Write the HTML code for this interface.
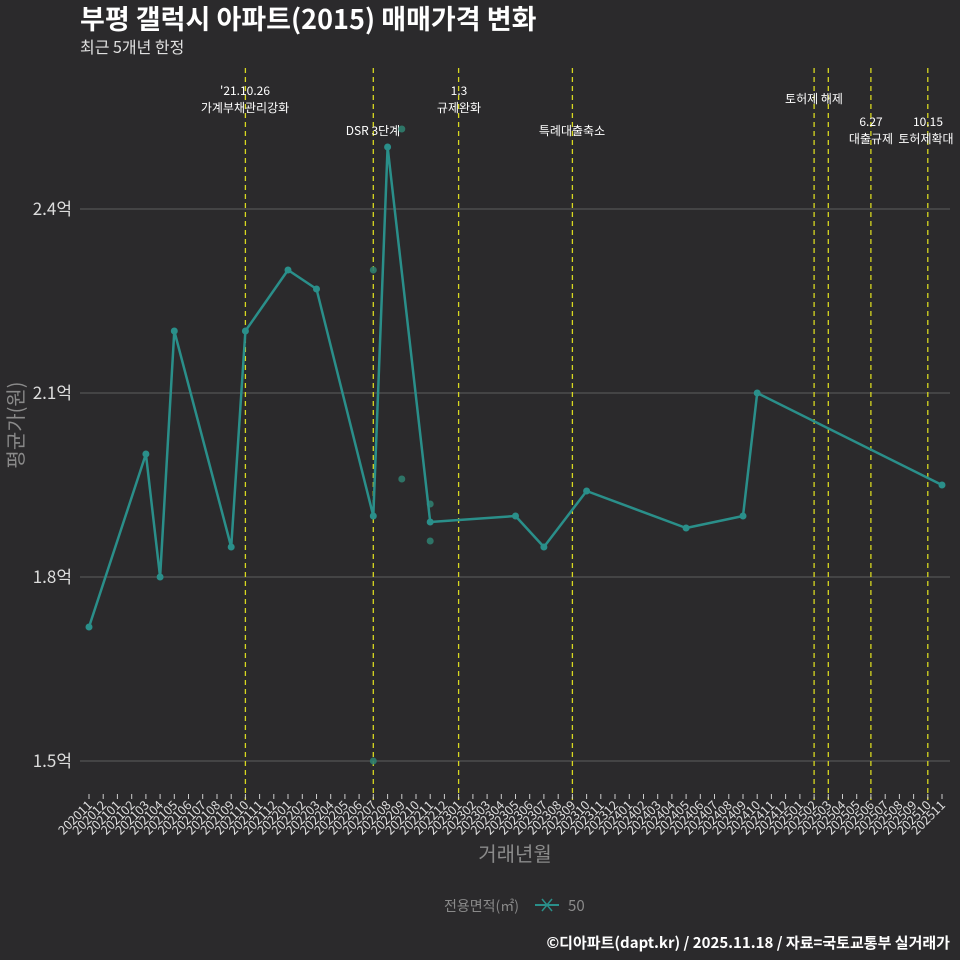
<!DOCTYPE html>
<html><head><meta charset="utf-8"><style>
html,body{margin:0;padding:0;background:#2b2a2c;}
svg{display:block;font-family:"Noto Sans CJK KR","Liberation Sans",sans-serif;}
</style></head><body>
<svg width="960" height="960" viewBox="0 0 960 960" xmlns="http://www.w3.org/2000/svg">
<rect width="960" height="960" fill="#2b2a2c"/>
<text x="80" y="29" font-size="27" font-weight="bold" fill="#ffffff">부평 갤럭시 아파트(2015) 매매가격 변화</text>
<text x="80" y="53" font-size="16" fill="#e0e0e0">최근 5개년 한정</text>
<g stroke="#5e5e5e" stroke-width="1">
<line x1="80" y1="209" x2="950" y2="209"/><line x1="80" y1="393" x2="950" y2="393"/>
<line x1="80" y1="577" x2="950" y2="577"/><line x1="80" y1="761" x2="950" y2="761"/>
</g>
<g font-size="17" fill="#dddddd" text-anchor="end">
<text x="72" y="215">2.4억</text><text x="72" y="399">2.1억</text>
<text x="72" y="583">1.8억</text><text x="72" y="767">1.5억</text>
</g>
<g stroke="#d8d820" stroke-width="1.3" stroke-dasharray="5,4">
<line x1="245.4" y1="68" x2="245.4" y2="800"/><line x1="373.3" y1="68" x2="373.3" y2="800"/>
<line x1="458.6" y1="68" x2="458.6" y2="800"/><line x1="572.4" y1="68" x2="572.4" y2="800"/>
<line x1="814.1" y1="68" x2="814.1" y2="800"/><line x1="828.3" y1="68" x2="828.3" y2="800"/>
<line x1="870.9" y1="68" x2="870.9" y2="800"/><line x1="927.8" y1="68" x2="927.8" y2="800"/>
</g>
<g font-size="12" fill="#ffffff" text-anchor="middle">
<text x="245" y="95">'21.10.26</text><text x="245" y="112">가계부채관리강화</text>
<text x="373" y="135">DSR 3단계</text>
<text x="459" y="95">1.3</text><text x="459" y="112">규제완화</text>
<text x="572" y="135">특례대출축소</text>
<text x="814" y="103">토허제 해제</text>
<text x="871" y="126">6.27</text><text x="871" y="143">대출규제</text>
<text x="928" y="126">10.15</text><text x="926" y="143">토허제확대</text>
</g>
<g fill="#2f7d6e" opacity="0.9">
<circle cx="373.3" cy="270" r="3.5"/><circle cx="373.3" cy="761" r="3.5"/>
<circle cx="401.8" cy="129" r="3.5"/><circle cx="401.8" cy="479" r="3.5"/>
<circle cx="430.2" cy="504" r="3.5"/><circle cx="430.2" cy="541" r="3.5"/>
</g>
<polyline fill="none" stroke="#2a8f8a" stroke-width="2.5" stroke-linejoin="round" points="89,627 145.9,454 160.1,577 174.3,331 231.2,547 245.4,331 288,270 316.5,289 373.3,516 387.6,147 430.2,522 515.5,516 543.9,547 586.6,491 686.1,528 743,516 757.2,393 942,485"/>
<g fill="#2a8f8a">
<circle cx="89" cy="627" r="3.5"/><circle cx="145.9" cy="454" r="3.5"/><circle cx="160.1" cy="577" r="3.5"/><circle cx="174.3" cy="331" r="3.5"/><circle cx="231.2" cy="547" r="3.5"/><circle cx="245.4" cy="331" r="3.5"/><circle cx="288" cy="270" r="3.5"/><circle cx="316.5" cy="289" r="3.5"/><circle cx="373.3" cy="516" r="3.5"/><circle cx="387.6" cy="147" r="3.5"/><circle cx="430.2" cy="522" r="3.5"/><circle cx="515.5" cy="516" r="3.5"/><circle cx="543.9" cy="547" r="3.5"/><circle cx="586.6" cy="491" r="3.5"/><circle cx="686.1" cy="528" r="3.5"/><circle cx="743" cy="516" r="3.5"/><circle cx="757.2" cy="393" r="3.5"/><circle cx="942" cy="485" r="3.5"/>
</g>
<g stroke="#cccccc" stroke-width="1">
<path d="M89 794v5M103.2 794v5M117.4 794v5M131.7 794v5M145.9 794v5M160.1 794v5M174.3 794v5M188.5 794v5M202.7 794v5M217 794v5M231.2 794v5M245.4 794v5M259.6 794v5M273.8 794v5M288 794v5M302.3 794v5M316.5 794v5M330.7 794v5M344.9 794v5M359.1 794v5M373.3 794v5M387.6 794v5M401.8 794v5M416 794v5M430.2 794v5M444.4 794v5M458.6 794v5M472.9 794v5M487.1 794v5M501.3 794v5M515.5 794v5M529.7 794v5M543.9 794v5M558.2 794v5M572.4 794v5M586.6 794v5M600.8 794v5M615 794v5M629.3 794v5M643.5 794v5M657.7 794v5M671.9 794v5M686.1 794v5M700.3 794v5M714.5 794v5M728.8 794v5M743 794v5M757.2 794v5M771.4 794v5M785.6 794v5M799.9 794v5M814.1 794v5M828.3 794v5M842.5 794v5M856.7 794v5M870.9 794v5M885.2 794v5M899.4 794v5M913.6 794v5M927.8 794v5M942 794v5"/>
</g>
<g font-size="12.5" fill="#dddddd" text-anchor="end">
<text transform="translate(93,806) rotate(-45)">202011</text>
<text transform="translate(107.2,806) rotate(-45)">202012</text>
<text transform="translate(121.4,806) rotate(-45)">202101</text>
<text transform="translate(135.7,806) rotate(-45)">202102</text>
<text transform="translate(149.9,806) rotate(-45)">202103</text>
<text transform="translate(164.1,806) rotate(-45)">202104</text>
<text transform="translate(178.3,806) rotate(-45)">202105</text>
<text transform="translate(192.5,806) rotate(-45)">202106</text>
<text transform="translate(206.7,806) rotate(-45)">202107</text>
<text transform="translate(221,806) rotate(-45)">202108</text>
<text transform="translate(235.2,806) rotate(-45)">202109</text>
<text transform="translate(249.4,806) rotate(-45)">202110</text>
<text transform="translate(263.6,806) rotate(-45)">202111</text>
<text transform="translate(277.8,806) rotate(-45)">202112</text>
<text transform="translate(292,806) rotate(-45)">202201</text>
<text transform="translate(306.3,806) rotate(-45)">202202</text>
<text transform="translate(320.5,806) rotate(-45)">202203</text>
<text transform="translate(334.7,806) rotate(-45)">202204</text>
<text transform="translate(348.9,806) rotate(-45)">202205</text>
<text transform="translate(363.1,806) rotate(-45)">202206</text>
<text transform="translate(377.3,806) rotate(-45)">202207</text>
<text transform="translate(391.6,806) rotate(-45)">202208</text>
<text transform="translate(405.8,806) rotate(-45)">202209</text>
<text transform="translate(420,806) rotate(-45)">202210</text>
<text transform="translate(434.2,806) rotate(-45)">202211</text>
<text transform="translate(448.4,806) rotate(-45)">202212</text>
<text transform="translate(462.6,806) rotate(-45)">202301</text>
<text transform="translate(476.9,806) rotate(-45)">202302</text>
<text transform="translate(491.1,806) rotate(-45)">202303</text>
<text transform="translate(505.3,806) rotate(-45)">202304</text>
<text transform="translate(519.5,806) rotate(-45)">202305</text>
<text transform="translate(533.7,806) rotate(-45)">202306</text>
<text transform="translate(547.9,806) rotate(-45)">202307</text>
<text transform="translate(562.2,806) rotate(-45)">202308</text>
<text transform="translate(576.4,806) rotate(-45)">202309</text>
<text transform="translate(590.6,806) rotate(-45)">202310</text>
<text transform="translate(604.8,806) rotate(-45)">202311</text>
<text transform="translate(619,806) rotate(-45)">202312</text>
<text transform="translate(633.3,806) rotate(-45)">202401</text>
<text transform="translate(647.5,806) rotate(-45)">202402</text>
<text transform="translate(661.7,806) rotate(-45)">202403</text>
<text transform="translate(675.9,806) rotate(-45)">202404</text>
<text transform="translate(690.1,806) rotate(-45)">202405</text>
<text transform="translate(704.3,806) rotate(-45)">202406</text>
<text transform="translate(718.5,806) rotate(-45)">202407</text>
<text transform="translate(732.8,806) rotate(-45)">202408</text>
<text transform="translate(747,806) rotate(-45)">202409</text>
<text transform="translate(761.2,806) rotate(-45)">202410</text>
<text transform="translate(775.4,806) rotate(-45)">202411</text>
<text transform="translate(789.6,806) rotate(-45)">202412</text>
<text transform="translate(803.9,806) rotate(-45)">202501</text>
<text transform="translate(818.1,806) rotate(-45)">202502</text>
<text transform="translate(832.3,806) rotate(-45)">202503</text>
<text transform="translate(846.5,806) rotate(-45)">202504</text>
<text transform="translate(860.7,806) rotate(-45)">202505</text>
<text transform="translate(874.9,806) rotate(-45)">202506</text>
<text transform="translate(889.2,806) rotate(-45)">202507</text>
<text transform="translate(903.4,806) rotate(-45)">202508</text>
<text transform="translate(917.6,806) rotate(-45)">202509</text>
<text transform="translate(931.8,806) rotate(-45)">202510</text>
<text transform="translate(946,806) rotate(-45)">202511</text>
</g>
<text x="515" y="861" font-size="20" fill="#8a8a8a" text-anchor="middle">거래년월</text>
<text transform="translate(23,425) rotate(-90)" font-size="20" fill="#8a8a8a" text-anchor="middle">평균가(원)</text>
<text x="444" y="911" font-size="14" fill="#8a8a8a">전용면적(㎡)</text>
<line x1="535" y1="905" x2="559" y2="905" stroke="#2a8f8a" stroke-width="2"/>
<path d="M542 899l10 12M552 899l-10 12" stroke="#2a8f8a" stroke-width="1.5"/>
<text x="568" y="911" font-size="15" fill="#8a8a8a">50</text>
<text x="950" y="948" font-size="15" font-weight="bold" fill="#ffffff" text-anchor="end">©디아파트(dapt.kr) / 2025.11.18 / 자료=국토교통부 실거래가</text>
</svg>
</body></html>
